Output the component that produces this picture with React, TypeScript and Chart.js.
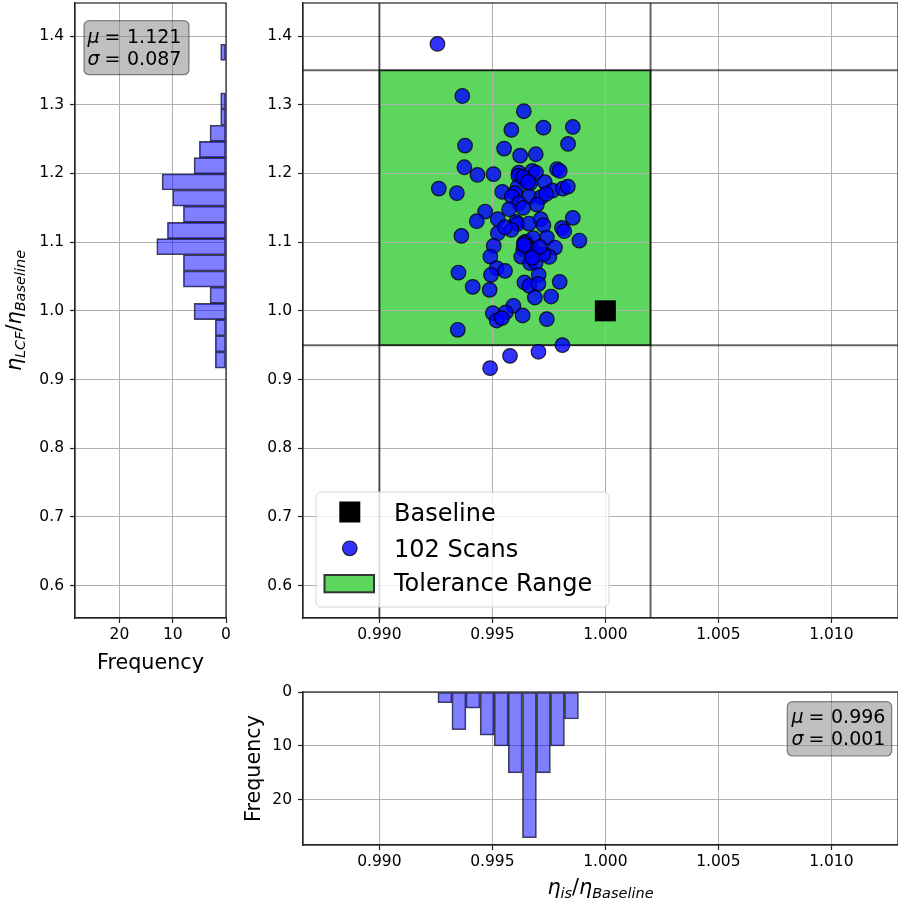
import React, { useEffect, useRef } from 'react';
import { Chart, registerables } from 'chart.js';

Chart.register(...registerables);

const FONT = "'DejaVu Sans', 'Liberation Sans', sans-serif";
const TICK_SIZE = 15.5;
const LABEL_SIZE = 20.7;

// ---- scatter data ----
const scanIs = [
  0.99257, 0.99367, 0.99639, 0.99584, 0.99726, 0.99856, 0.99379, 0.99835, 0.99552, 0.99623,
  0.99692, 0.99376, 0.99434, 0.99505, 0.99617, 0.99677, 0.99693, 0.99786, 0.99798, 0.99615,
  0.99646, 0.99667, 0.99732, 0.99263, 0.99343, 0.99544, 0.99611, 0.996, 0.99586, 0.99664,
  0.99716, 0.99766, 0.99812, 0.99834, 0.99618, 0.99697, 0.99574, 0.99636, 0.99468, 0.99431,
  0.99524, 0.99856, 0.99605, 0.99611, 0.99662, 0.99714, 0.99726, 0.99808, 0.99818, 0.99363,
  0.99524, 0.99584, 0.99555, 0.99741, 0.99885, 0.99506, 0.99648, 0.99681, 0.99777, 0.99637,
  0.99657, 0.99689, 0.99752, 0.99491, 0.99628, 0.99667, 0.99692, 0.99726, 0.9935, 0.99519,
  0.99556, 0.99494, 0.99705, 0.99413, 0.99488, 0.99642, 0.99664, 0.99704, 0.99798, 0.99688,
  0.9976, 0.99593, 0.99502, 0.99559, 0.99519, 0.99542, 0.99634, 0.99741, 0.99347, 0.9981,
  0.99704, 0.99578, 0.9949, 0.99636, 0.99658, 0.99738, 0.9964, 0.99653, 0.99667, 0.9964,
  0.9971, 0.99676,
];
const scanLcf = [
  1.3885, 1.3127, 1.2905, 1.2633, 1.2666, 1.2676, 1.2405, 1.2429, 1.2361, 1.2259,
  1.2279, 1.209, 1.1978, 1.199, 1.2012, 1.2036, 1.2012, 1.2061, 1.2036, 1.1968,
  1.1905, 1.1857, 1.1872, 1.1779, 1.1712, 1.1731, 1.1799, 1.1712, 1.1663, 1.1663,
  1.1654, 1.175, 1.1779, 1.1808, 1.1567, 1.1546, 1.1479, 1.1498, 1.1445, 1.1305,
  1.1334, 1.1353, 1.1295, 1.1265, 1.127, 1.1334, 1.1247, 1.1207, 1.1159, 1.1091,
  1.113, 1.1178, 1.1217, 1.1066, 1.1023, 1.0945, 1.1008, 1.1057, 1.0921, 1.0897,
  1.0935, 1.0863, 1.0785, 1.079, 1.079, 1.0694, 1.0703, 1.0825, 1.0557, 1.0621,
  1.0582, 1.0524, 1.0524, 1.0349, 1.0305, 1.0412, 1.0364, 1.0393, 1.0422, 1.0194,
  1.0208, 1.0073, 0.9967, 0.9976, 0.9859, 0.9894, 0.9932, 0.9879, 0.9724, 0.9501,
  0.9404, 0.9345, 0.9166, 1.1949, 1.1876, 1.1702, 1.0989, 1.0931, 1.0887, 1.096,
  1.0931, 1.0771,
];
const baselineIs = [1.0];
const baselineLcf = [1.0];
const toleranceIs = [0.99, 1.002];
const toleranceLcf = [0.95, 1.35];

// ---- histograms ----
const lcfBinCenters = [
  0.92839, 0.95196, 0.97553, 0.9991, 1.02267, 1.04624, 1.06981, 1.09338, 1.11695, 1.14052,
  1.16409, 1.18766, 1.21123, 1.2348, 1.25837, 1.28194, 1.30551, 1.32908, 1.35265, 1.37622,
];
const lcfCounts = [2, 2, 2, 6, 3, 8, 8, 13, 11, 8, 10, 12, 6, 5, 3, 1, 1, 0, 0, 1];
const isBinCenters = [0.9929, 0.99352, 0.99414, 0.99477, 0.99539, 0.99601, 0.99664, 0.99726, 0.99788, 0.9985];
const isCounts = [2, 7, 3, 8, 10, 15, 27, 15, 10, 5];

// ---- ticks / texts ----
const mainXTicks = [0.99, 0.995, 1.0, 1.005, 1.01];
const mainXTickLabels = ['0.990', '0.995', '1.000', '1.005', '1.010'];
const mainYTicks = [0.6, 0.7, 0.8, 0.9, 1.0, 1.1, 1.2, 1.3, 1.4];
const mainYTickLabels = ['0.6', '0.7', '0.8', '0.9', '1.0', '1.1', '1.2', '1.3', '1.4'];
const freqTicks = [0, 10, 20];
const freqTickLabels = ['0', '10', '20'];
const legendLabels = ['Baseline', '102 Scans', 'Tolerance Range'];
const lcfStats = ['1.121', '0.087'];
const isStats = ['0.996', '0.001'];

const X_RANGE = [0.98662, 1.01295];
const Y_RANGE = [0.55293, 1.44803];
const FREQ_RANGE = [0, 28.35];

const GREEN = '#5cd65c';
const POINT_FILL = 'rgba(0,0,255,0.8)';
const POINT_EDGE = 'rgba(0,0,0,0.8)';
const BAR_FILL = 'rgba(0,0,255,0.5)';
const BAR_EDGE = 'rgba(0,0,0,0.72)';

function axis(kind: 'x' | 'y', range: number[], ticks: number[], labels: string[], size: number, reverse = false) {
  return {
    type: 'linear',
    min: range[0],
    max: range[1],
    reverse,
    offset: false,
    bounds: 'data',
    position: kind === 'x' ? 'bottom' : 'left',
    grid: {
      color: '#b0b0b0',
      lineWidth: 1,
      offset: false,
      drawTicks: true,
      tickColor: '#222',
      tickLength: 5,
      tickWidth: 1.2,
    },
    border: { display: true, color: '#222', width: 1.2 },
    ticks: {
      color: '#000',
      font: { family: FONT, size: TICK_SIZE },
      padding: kind === 'x' ? 3 : 6,
      autoSkip: false,
      maxRotation: 0,
      minRotation: 0,
      callback: (_v: any, i: number) => labels[i] ?? '',
    },
    afterBuildTicks: (a: any) => {
      a.ticks = ticks.map((v) => ({ value: v }));
    },
    afterFit: (a: any) => {
      if (kind === 'x') {
        a.height = size;
        a.paddingLeft = 0;
        a.paddingRight = 0;
      } else {
        a.width = size;
        a.paddingTop = 0;
        a.paddingBottom = 0;
      }
    },
  };
}

function frame(chart: any) {
  const { ctx, chartArea: a } = chart;
  ctx.save();
  ctx.strokeStyle = '#222';
  ctx.lineWidth = 1.2;
  ctx.strokeRect(a.left, a.top, a.right - a.left, a.bottom - a.top);
  ctx.restore();
}

function roundRectPath(ctx: CanvasRenderingContext2D, x: number, y: number, w: number, h: number, r: number) {
  ctx.beginPath();
  ctx.moveTo(x + r, y);
  ctx.lineTo(x + w - r, y);
  ctx.arcTo(x + w, y, x + w, y + r, r);
  ctx.lineTo(x + w, y + h - r);
  ctx.arcTo(x + w, y + h, x + w - r, y + h, r);
  ctx.lineTo(x + r, y + h);
  ctx.arcTo(x, y + h, x, y + h - r, r);
  ctx.lineTo(x, y + r);
  ctx.arcTo(x, y, x + r, y, r);
  ctx.closePath();
}

function statBox(ctx: CanvasRenderingContext2D, bx: number, by: number, bw: number, bh: number, tx: number, baselines: number[], values: string[]) {
  const size = 19;
  ctx.save();
  roundRectPath(ctx, bx, by, bw, bh, 5);
  ctx.fillStyle = 'rgba(128,128,128,0.5)';
  ctx.fill();
  ctx.strokeStyle = 'rgba(0,0,0,0.45)';
  ctx.lineWidth = 1.2;
  ctx.stroke();
  ctx.fillStyle = '#000';
  ctx.textBaseline = 'alphabetic';
  ctx.textAlign = 'left';
  const syms = ['μ', 'σ'];
  values.forEach((v, i) => {
    ctx.font = `italic ${size}px ${FONT}`;
    ctx.fillText(syms[i], tx, baselines[i]);
    ctx.font = `${size}px ${FONT}`;
    ctx.fillText('=', tx + 0.9 * size, baselines[i]);
    ctx.fillText(v, tx + 2.08 * size, baselines[i]);
  });
  ctx.restore();
}

type Part = { t: string; it?: boolean; sub?: boolean };

function mathText(ctx: CanvasRenderingContext2D, parts: Part[], x: number, y: number, size: number, rotated: boolean) {
  ctx.save();
  ctx.translate(x, y);
  if (rotated) ctx.rotate(-Math.PI / 2);
  ctx.fillStyle = '#000';
  ctx.textBaseline = 'alphabetic';
  ctx.textAlign = 'left';
  const fonts = parts.map((p) => `${p.it ? 'italic ' : ''}${p.sub ? size * 0.7 : size}px ${FONT}`);
  const widths = parts.map((p, i) => {
    ctx.font = fonts[i];
    return ctx.measureText(p.t).width;
  });
  const total = widths.reduce((s, w) => s + w, 0);
  let cur = -total / 2;
  parts.forEach((p, i) => {
    ctx.font = fonts[i];
    ctx.fillText(p.t, cur, p.sub ? size * 0.2 : 0);
    cur += widths[i];
  });
  ctx.restore();
}

const lcfLabel: Part[] = [
  { t: 'η', it: true },
  { t: 'LCF', it: true, sub: true },
  { t: '/' },
  { t: 'η', it: true },
  { t: 'Baseline', it: true, sub: true },
];
const isLabel: Part[] = [
  { t: 'η', it: true },
  { t: 'is', it: true, sub: true },
  { t: '/' },
  { t: 'η', it: true },
  { t: 'Baseline', it: true, sub: true },
];

function leftConfig(): any {
  return {
    type: 'bar',
    data: {
      datasets: [
        {
          data: lcfBinCenters.map((c, i) => ({ x: lcfCounts[i], y: c })),
          backgroundColor: BAR_FILL,
          borderColor: BAR_EDGE,
          borderWidth: 1,
          borderSkipped: false,
          barPercentage: 1,
          categoryPercentage: 1,
        },
      ],
    },
    options: {
      indexAxis: 'y',
      responsive: false,
      maintainAspectRatio: false,
      animation: false,
      events: [],
      layout: { autoPadding: false, padding: { left: 0, right: 14, top: 3, bottom: 0 } },
      plugins: { legend: { display: false }, tooltip: { enabled: false } },
      scales: {
        x: axis('x', FREQ_RANGE, freqTicks, freqTickLabels, 72, true),
        y: axis('y', Y_RANGE, mainYTicks, mainYTickLabels, 75),
      },
    },
    plugins: [
      {
        id: 'leftDeco',
        afterDraw(chart: any) {
          frame(chart);
          const ctx = chart.ctx as CanvasRenderingContext2D;
          statBox(ctx, 84, 20.7, 105, 54, 87.5, [43, 64.5], lcfStats);
          mathText(ctx, [{ t: 'Frequency' }], 150.5, 669, LABEL_SIZE, false);
          mathText(ctx, lcfLabel, 20.5, 310.5, LABEL_SIZE, true);
        },
      },
    ],
  };
}

function mainConfig(): any {
  const OX = 240;
  return {
    type: 'scatter',
    data: {
      datasets: [
        {
          label: legendLabels[0],
          data: baselineIs.map((x, i) => ({ x, y: baselineLcf[i] })),
          pointStyle: 'rect',
          pointRadius: 14.85,
          backgroundColor: '#000',
          borderWidth: 0,
        },
        {
          label: legendLabels[1],
          data: scanIs.map((x, i) => ({ x, y: scanLcf[i] })),
          pointStyle: 'circle',
          pointRadius: 7.3,
          backgroundColor: POINT_FILL,
          borderColor: POINT_EDGE,
          borderWidth: 1.2,
        },
      ],
    },
    options: {
      responsive: false,
      maintainAspectRatio: false,
      animation: false,
      events: [],
      layout: { autoPadding: false, padding: { left: 0, right: 0, top: 3, bottom: 0 } },
      plugins: { legend: { display: false }, tooltip: { enabled: false } },
      scales: {
        x: axis('x', X_RANGE, mainXTicks, mainXTickLabels, 47),
        y: axis('y', Y_RANGE, mainYTicks, mainYTickLabels, 63),
      },
    },
    plugins: [
      {
        id: 'tolerance',
        beforeDraw(chart: any) {
          const { ctx, chartArea: a, scales } = chart;
          const x0 = scales.x.getPixelForValue(toleranceIs[0]);
          const x1 = scales.x.getPixelForValue(toleranceIs[1]);
          const y0 = scales.y.getPixelForValue(toleranceLcf[1]);
          const y1 = scales.y.getPixelForValue(toleranceLcf[0]);
          ctx.save();
          ctx.beginPath();
          ctx.rect(a.left, a.top, a.right - a.left, a.bottom - a.top);
          ctx.clip();
          ctx.fillStyle = GREEN;
          ctx.fillRect(x0, y0, x1 - x0, y1 - y0);
          ctx.restore();
        },
        beforeDatasetsDraw(chart: any) {
          const { ctx, chartArea: a, scales } = chart;
          const xs = toleranceIs.map((v) => scales.x.getPixelForValue(v));
          const ys = toleranceLcf.map((v) => scales.y.getPixelForValue(v));
          ctx.save();
          ctx.beginPath();
          ctx.rect(a.left, a.top, a.right - a.left, a.bottom - a.top);
          ctx.clip();
          ctx.strokeStyle = 'rgba(0,0,0,0.6)';
          ctx.lineWidth = 2;
          xs.forEach((x) => {
            ctx.beginPath();
            ctx.moveTo(x, a.top);
            ctx.lineTo(x, a.bottom);
            ctx.stroke();
          });
          ys.forEach((y) => {
            ctx.beginPath();
            ctx.moveTo(a.left, y);
            ctx.lineTo(a.right, y);
            ctx.stroke();
          });
          ctx.strokeStyle = 'rgba(0,0,0,0.6)';
          ctx.lineWidth = 1.5;
          ctx.strokeRect(xs[0], ys[1], xs[1] - xs[0], ys[0] - ys[1]);
          ctx.restore();
        },
        afterDraw(chart: any) {
          frame(chart);
          const ctx = chart.ctx as CanvasRenderingContext2D;
          // legend
          const lx = 316 - OX;
          ctx.save();
          roundRectPath(ctx, lx, 492, 293, 115, 5);
          ctx.fillStyle = 'rgba(255,255,255,0.8)';
          ctx.fill();
          ctx.strokeStyle = 'rgba(204,204,204,0.8)';
          ctx.lineWidth = 1;
          ctx.stroke();
          const mx = 349.8 - OX;
          ctx.fillStyle = '#000';
          ctx.fillRect(mx - 10.5, 501.5, 21, 21);
          ctx.beginPath();
          ctx.arc(mx, 548.3, 7.3, 0, Math.PI * 2);
          ctx.fillStyle = POINT_FILL;
          ctx.fill();
          ctx.strokeStyle = POINT_EDGE;
          ctx.lineWidth = 1.2;
          ctx.stroke();
          ctx.fillStyle = GREEN;
          ctx.fillRect(324.5 - OX, 575, 49.5, 17.3);
          ctx.strokeStyle = '#333';
          ctx.lineWidth = 2;
          ctx.strokeRect(324.5 - OX, 575, 49.5, 17.3);
          ctx.fillStyle = '#000';
          ctx.font = `24px ${FONT}`;
          ctx.textAlign = 'left';
          ctx.textBaseline = 'alphabetic';
          const bl = [520.5, 556.5, 591];
          legendLabels.forEach((t, i) => ctx.fillText(t, 394 - OX, bl[i]));
          ctx.restore();
        },
      },
    ],
  };
}

function bottomConfig(): any {
  const OX = 240;
  const OY = 680;
  return {
    type: 'bar',
    data: {
      datasets: [
        {
          data: isBinCenters.map((c, i) => ({ x: c, y: isCounts[i] })),
          backgroundColor: BAR_FILL,
          borderColor: BAR_EDGE,
          borderWidth: 1,
          borderSkipped: false,
          barPercentage: 1,
          categoryPercentage: 1,
        },
      ],
    },
    options: {
      responsive: false,
      maintainAspectRatio: false,
      animation: false,
      events: [],
      layout: { autoPadding: false, padding: { left: 0, right: 0, top: 12, bottom: 0 } },
      plugins: { legend: { display: false }, tooltip: { enabled: false } },
      scales: {
        x: axis('x', X_RANGE, mainXTicks, mainXTickLabels, 59),
        y: axis('y', FREQ_RANGE, freqTicks, freqTickLabels, 63, true),
      },
    },
    plugins: [
      {
        id: 'bottomDeco',
        afterDraw(chart: any) {
          frame(chart);
          const ctx = chart.ctx as CanvasRenderingContext2D;
          statBox(ctx, 787.3 - OX, 701.7 - OY, 104.4, 54.3, 791.5 - OX, [723 - OY, 745 - OY], isStats);
          mathText(ctx, [{ t: 'Frequency' }], 259.6 - OX, 768.5 - OY, LABEL_SIZE, true);
          mathText(ctx, isLabel, 600.5 - OX, 894 - OY, LABEL_SIZE, false);
        },
      },
    ],
  };
}

export default function App() {
  const leftRef = useRef<HTMLCanvasElement>(null);
  const mainRef = useRef<HTMLCanvasElement>(null);
  const bottomRef = useRef<HTMLCanvasElement>(null);

  useEffect(() => {
    const charts: Chart[] = [];
    if (leftRef.current) charts.push(new Chart(leftRef.current, leftConfig()));
    if (mainRef.current) charts.push(new Chart(mainRef.current, mainConfig()));
    if (bottomRef.current) charts.push(new Chart(bottomRef.current, bottomConfig()));
    return () => charts.forEach((c) => c.destroy());
  }, []);

  return (
    <div style={{ position: 'fixed', left: 0, top: 0, width: 898, height: 904, background: '#fff', overflow: 'hidden' }}>
      <canvas ref={leftRef} width={240} height={690} style={{ position: 'absolute', left: 0, top: 0, width: 240, height: 690 }} />
      <canvas ref={mainRef} width={658} height={665} style={{ position: 'absolute', left: 240, top: 0, width: 658, height: 665 }} />
      <canvas ref={bottomRef} width={658} height={224} style={{ position: 'absolute', left: 240, top: 680, width: 658, height: 224 }} />
    </div>
  );
}
